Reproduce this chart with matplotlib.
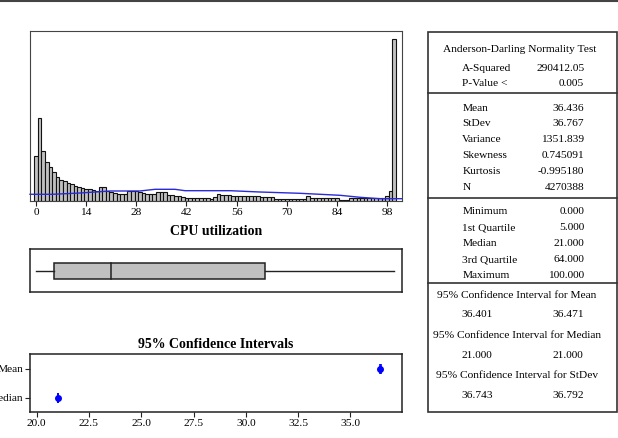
import numpy as np
import matplotlib
matplotlib.use("Agg")
import matplotlib.pyplot as plt
from matplotlib.lines import Line2D
from matplotlib.patches import Rectangle

plt.rcParams['font.family'] = ['Liberation Serif', 'DejaVu Serif']

# histogram of CPU utilization (bin centres 0..100, heights)
bins = np.arange(0, 101)
counts = [45, 82.7, 50.3, 39, 33.7, 29, 24.3, 21, 19.7, 18.3,
          16.7, 15.3, 14, 12.7, 12.3, 12, 10.7, 10.3, 13.7, 13.7,
          9.7, 8.7, 8.3, 7, 6.7, 7.3, 10, 10.3, 9.7, 9,
          8.3, 7.3, 7, 7.3, 8.7, 9.3, 8.7, 6.3, 5.7, 5,
          4.7, 4, 3.3, 3.3, 3.3, 3.3, 3.3, 3.3, 2.7, 2.3,
          4, 7.3, 6, 6, 6, 5, 5, 5, 5, 5,
          5, 5, 5, 3.7, 3.7, 3.7, 3.7, 2.3, 2.3, 2.3,
          2.3, 2.3, 2.3, 2.3, 2.3, 2.3, 5, 2.7, 2.7, 2.7,
          2.7, 2.7, 2.7, 2.7, 2.7, 1.3, 1.3, 1.3, 3, 3,
          3, 3, 3, 3, 3, 3, 3, 3, 5, 9.7,
          161.7]

# fitted normal curve as drawn
curve_x = [-1.7, 4.5, 12.3, 20.7, 29, 33.2, 38.8, 41.6, 54.2, 62.5, 73.7, 84.9, 90.5, 96, 102.2]
curve_y = [6.7, 6.7, 8, 10, 10, 11.7, 11.7, 10.3, 10.3, 9, 7.7, 5.7, 3.7, 2.3, 2.3]

hist_ticks = [0, 14, 28, 42, 56, 70, 84, 98]

# five number summary
q_min, q1, med, q3, q_max = 0.0, 5.0, 21.0, 64.0, 100.0

# 95% confidence intervals
ci_names = ['Median', 'Mean']
ci_center = [21.0, 36.436]
ci_low = [21.0, 36.401]
ci_high = [21.0, 36.471]
ci_ticks = [20.0, 22.5, 25.0, 27.5, 30.0, 32.5, 35.0]

stats_rows = [
    [("A-Squared", "290412.05"), ("P-Value <", "0.005")],
    [("Mean", "36.436"), ("StDev", "36.767"), ("Variance", "1351.839"),
     ("Skewness", "0.745091"), ("Kurtosis", "-0.995180"), ("N", "4270388")],
    [("Minimum", "0.000"), ("1st Quartile", "5.000"), ("Median", "21.000"),
     ("3rd Quartile", "64.000"), ("Maximum", "100.000")],
]
ci_table = [("95% Confidence Interval for Mean", "36.401", "36.471"),
            ("95% Confidence Interval for Median", "21.000", "21.000"),
            ("95% Confidence Interval for StDev", "36.743", "36.792")]

W, H = 618, 438
fig = plt.figure(figsize=(W / 100, H / 100), dpi=100)


def box(l, t, r, b):
    return [l / W, 1 - b / H, (r - l) / W, (b - t) / H]


def fy(y):
    return 1 - y / H


edge = '#222222'
fs = 8.2

# histogram
ax = fig.add_axes(box(30, 31, 402, 201))
ax.bar(bins, counts, width=1.0, color='#c0c0c0', edgecolor='#111111', linewidth=0.8)
ax.plot(curve_x, curve_y, color='#2a2ad8', lw=1.0, clip_on=False)
ax.set_xlim(-1.7, 102.2)
ax.set_ylim(0, 170)
ax.set_yticks([])
ax.set_xticks(hist_ticks)
ax.tick_params(axis='x', labelsize=fs, length=3.5, pad=1.5, color=edge)
ax.set_xlabel("CPU utilization", fontsize=10, fontweight='bold', labelpad=5.5)
for s in ax.spines.values():
    s.set_color('#444444')

# box plot
axb = fig.add_axes(box(30, 249.3, 401.7, 292.3))
axb.set_xlim(-1.7, 102.2)
axb.set_ylim(0, 1)
axb.plot([q_min, q1], [0.5, 0.5], color=edge, lw=1)
axb.plot([q3, q_max], [0.5, 0.5], color=edge, lw=1)
axb.add_patch(Rectangle((q1, 0.5 - 0.183), q3 - q1, 0.366, facecolor='#c0c0c0',
                        edgecolor=edge, lw=1.1))
axb.plot([med, med], [0.5 - 0.183, 0.5 + 0.183], color=edge, lw=1.1)
axb.set_xticks([])
axb.set_yticks([])
for s in axb.spines.values():
    s.set_color(edge)
    s.set_linewidth(1.1)

# confidence intervals
axc = fig.add_axes(box(30, 354, 401.7, 412.3))
for i in range(len(ci_names)):
    axc.errorbar(ci_center[i], i, xerr=[[ci_center[i] - ci_low[i]], [ci_high[i] - ci_center[i]]],
                 fmt='o', ms=4, color='blue', capsize=3.5, elinewidth=1, capthick=1.2)
axc.set_xlim(19.68, 37.45)
axc.set_ylim(-0.51, 1.52)
axc.set_yticks(range(len(ci_names)))
axc.set_yticklabels(ci_names)
axc.set_xticks(ci_ticks)
axc.set_xticklabels([f"{t:.1f}" for t in ci_ticks])
axc.tick_params(labelsize=fs, length=3.5, pad=1.5, color=edge)
axc.set_title("95% Confidence Intervals", fontsize=10, fontweight='bold', pad=4)
for s in axc.spines.values():
    s.set_color(edge)
    s.set_linewidth(1.1)

# summary table
fig.add_artist(Rectangle((428.3 / W, fy(412.3)), (616.5 - 428.3) / W, (412.3 - 31.7) / H,
                         transform=fig.transFigure, fill=False, edgecolor='#333333', lw=1.2))
for y in [93.3, 197.7, 283]:
    fig.add_artist(Line2D([428.3 / W, 616.5 / W], [fy(y), fy(y)], color='#333333', lw=1.2))

fig.text(519.3 / W, fy(49), "Anderson-Darling Normality Test", fontsize=fs, ha='center', va='center')
row_y = [[68.3, 84], [108.3, 124, 140, 156, 172, 188], [212, 228, 244, 260, 275.3]]
for rows, ys in zip(stats_rows, row_y):
    for (lab, val), y in zip(rows, ys):
        fig.text(462.3 / W, fy(y), lab, fontsize=fs, ha='left', va='center')
        fig.text(584.3 / W, fy(y), val, fontsize=fs, ha='right', va='center')

for (title, lo, hi), (yt, yv) in zip(ci_table, [(295.7, 314.3), (335, 355), (375.7, 395)]):
    fig.text(516.7 / W, fy(yt), title, fontsize=fs, ha='center', va='center')
    fig.text(477.3 / W, fy(yv), lo, fontsize=fs, ha='center', va='center')
    fig.text(568 / W, fy(yv), hi, fontsize=fs, ha='center', va='center')

# rule along the top edge
fig.add_artist(Line2D([0, 1], [fy(0.8), fy(0.8)], color='#444444', lw=1.5))

fig.savefig("out.png", dpi=100)
